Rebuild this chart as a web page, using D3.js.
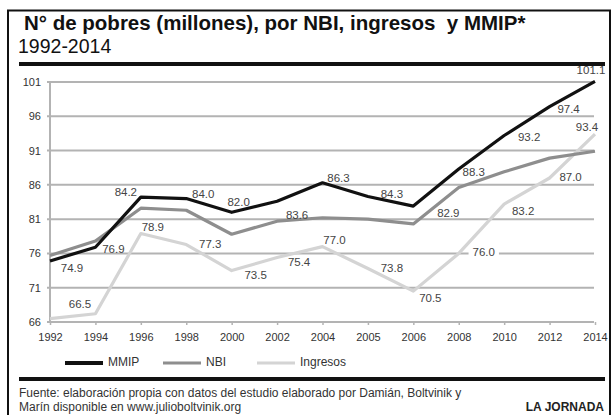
<!DOCTYPE html>
<html>
<head>
<meta charset="utf-8">
<script src="https://cdn.jsdelivr.net/npm/d3@7"></script>
<style>
  html, body { margin: 0; padding: 0; background: #fff; }
  svg { display: block; font-family: "Liberation Sans", Arial, sans-serif; }
</style>
</head>
<body>
<svg id="chart" width="612" height="415"></svg>
<script>
// Poverty counts (millions), 1992-2014
const years = ['1992', '1994', '1996', '1998', '2000', '2002', '2004', '2005', '2006', '2008', '2010', '2012', '2014'];
const mmip = [74.9, 76.9, 84.2, 84.0, 82.0, 83.6, 86.3, 84.3, 82.9, 88.3, 93.2, 97.4, 101.1];
const nbi = [75.7, 77.8, 82.6, 82.3, 78.8, 80.7, 81.2, 81.0, 80.3, 85.6, 87.9, 89.9, 90.9];
const ingresos = [66.5, 67.2, 78.9, 77.3, 73.5, 75.4, 77.0, 73.8, 70.5, 76.0, 83.2, 87.0, 93.4];
const yTicks = [66, 71, 76, 81, 86, 91, 96, 101];
const seriesNames = ['MMIP', 'NBI', 'Ingresos'];

// label offsets from each point: [dx, dy, whiteBackground]; null = no label
const mmipLabelPos = [[22, 8], [18, 3], [-15, -4], [17, -4], [7, -9], [20, 15], [16, -4],
  [24, -2], [35, 8], [15, 4], [25, 2], [19, 3], [-4, -10]];
const ingresosLabelPos = [[30, -14], null, [12, -6], [24, 0], [24, 5], [22, 5], [12, -6],
  [24, 0], [17, 8], [25, 0, true], [19, 8], [21, 0], [-8, -6]];

const svg = d3.select('#chart');

const x = d3.scalePoint().domain(years).range([50, 595]);
const y = d3.scaleLinear().domain([66, 101]).range([322, 82]);

// Frame
svg.append('path')
  .attr('d', 'M8,430 L8,10.5 L610,10.5 L610,430')
  .attr('fill', 'none')
  .attr('stroke', '#111')
  .attr('stroke-width', 2);

// Title
svg.append('text')
  .attr('x', 24).attr('y', 29.5)
  .attr('font-size', 20.5).attr('font-weight', 'bold')
  .attr('fill', '#111')
  .style('white-space', 'pre')
  .text('N° de pobres (millones), por NBI, ingresos  y MMIP*');

svg.append('text')
  .attr('x', 18).attr('y', 53)
  .attr('font-size', 19.5)
  .attr('fill', '#111')
  .text('1992-2014');

// Thick rules
svg.append('rect').attr('x', 19).attr('y', 62).attr('width', 586).attr('height', 4).attr('fill', '#111');
svg.append('rect').attr('x', 19).attr('y', 377).attr('width', 586).attr('height', 4).attr('fill', '#111');

const grid = svg.append('g');

// Horizontal gridlines
grid.selectAll('line.grid')
  .data(yTicks)
  .join('line')
  .attr('class', 'grid')
  .attr('x1', 47).attr('x2', 594)
  .attr('y1', d => y(d)).attr('y2', d => y(d))
  .attr('stroke', '#b3b3b3')
  .attr('stroke-width', 2);

// y axis line
grid.append('line')
  .attr('x1', 50).attr('x2', 50)
  .attr('y1', y(101)).attr('y2', y(66))
  .attr('stroke', '#b3b3b3')
  .attr('stroke-width', 2);

// x axis ticks + labels
const xAxis = d3.axisBottom(x).tickSize(3).tickPadding(8);
const gx = svg.append('g').attr('transform', `translate(0,${y(66)})`).call(xAxis);
gx.select('.domain').remove();
gx.selectAll('line').attr('stroke', '#b3b3b3').attr('stroke-width', 1.5);
gx.selectAll('text').attr('font-size', 11).attr('fill', '#333').attr('font-family', null);

// y labels
const yAxis = d3.axisLeft(y).tickValues(yTicks).tickSize(0).tickPadding(9);
const gy = svg.append('g').attr('transform', 'translate(50,0)').call(yAxis);
gy.select('.domain').remove();
gy.selectAll('text').attr('font-size', 11).attr('fill', '#333').attr('font-family', null);

const line = d3.line().x((d, i) => x(years[i])).y(d => y(d));

const series = [
  { name: 'Ingresos', values: ingresos, color: '#d4d4d4', width: 3.2 },
  { name: 'NBI', values: nbi, color: '#8e8e8e', width: 3.2 },
  { name: 'MMIP', values: mmip, color: '#111', width: 3.2 }
];

series.forEach(s => {
  svg.append('path')
    .datum(s.values)
    .attr('d', line)
    .attr('fill', 'none')
    .attr('stroke', s.color)
    .attr('stroke-width', s.width)
    .attr('stroke-linejoin', 'round');
});

// Value labels
function addLabels(values, offsets) {
  const g = svg.append('g');
  values.forEach((v, i) => {
    const off = offsets[i];
    if (!off) return;
    const cx = x(years[i]) + off[0];
    const cy = y(v) + off[1];
    const t = g.append('text')
      .attr('x', cx).attr('y', cy)
      .attr('text-anchor', 'middle')
      .attr('dominant-baseline', 'middle')
      .attr('font-size', 11.5)
      .attr('fill', '#444')
      .text(v.toFixed(1));
    if (off[2]) {
      const b = t.node().getBBox();
      g.insert('rect', () => t.node())
        .attr('x', b.x - 4).attr('y', b.y)
        .attr('width', b.width + 8).attr('height', b.height)
        .attr('fill', '#fff');
    }
  });
}
addLabels(mmip, mmipLabelPos);
addLabels(ingresos, ingresosLabelPos);

// Legend
const legendX = [65, 163, 257];
const legend = svg.append('g').attr('transform', 'translate(0,363)');
series.slice().reverse().forEach((s, i) => {
  legend.append('line')
    .attr('x1', legendX[i]).attr('x2', legendX[i] + 38)
    .attr('y1', 0).attr('y2', 0)
    .attr('stroke', s.color)
    .attr('stroke-width', i === 0 ? 4 : 3);
  legend.append('text')
    .attr('x', legendX[i] + 43).attr('y', 0)
    .attr('dominant-baseline', 'middle')
    .attr('font-size', 12)
    .attr('fill', '#333')
    .text(seriesNames[i]);
});

// Source
svg.append('text')
  .attr('x', 19).attr('y', 397)
  .attr('font-size', 12).attr('fill', '#333')
  .text('Fuente: elaboración propia con datos del estudio elaborado por Damián, Boltvinik y');
svg.append('text')
  .attr('x', 19).attr('y', 411)
  .attr('font-size', 12).attr('fill', '#333')
  .text('Marín disponible en www.julioboltvinik.org');
svg.append('text')
  .attr('x', 604).attr('y', 411)
  .attr('text-anchor', 'end')
  .attr('font-size', 12).attr('font-weight', 'bold').attr('fill', '#222')
  .text('LA JORNADA');
</script>
</body>
</html>
